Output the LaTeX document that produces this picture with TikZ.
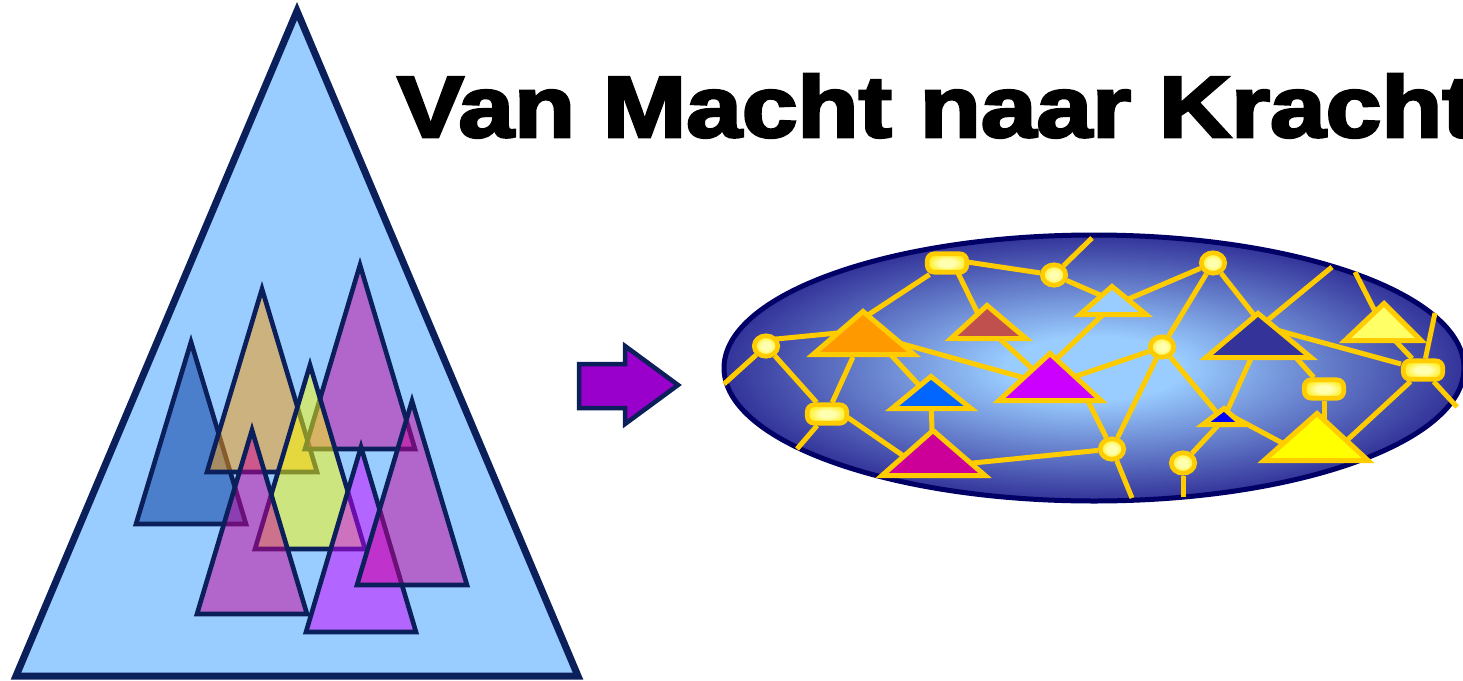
\documentclass[tikz,border=0pt]{standalone}
\usepackage{fontspec}
\newfontfamily\titlefont[FakeBold=3]{Liberation Sans Bold}
\usetikzlibrary{calc,shapes.geometric}
\definecolor{navy}{HTML}{0B1F5A}
\definecolor{bgblue}{HTML}{99CCFF}
\definecolor{arrowpurple}{HTML}{9900CC}
\definecolor{ellnavy}{HTML}{000066}
\definecolor{elldark}{HTML}{333399}
\definecolor{elllight}{HTML}{99CCFF}
\definecolor{linkyellow}{HTML}{FFCC00}
\definecolor{knoblight}{HTML}{FFFFB0}
\definecolor{knobdark}{HTML}{FFEE22}
\definecolor{cblue}{HTML}{003399}
\definecolor{corange}{HTML}{FF9900}
\definecolor{cyellow}{HTML}{FFFF00}
\definecolor{cmagenta}{HTML}{CC0099}
\definecolor{cpurple}{HTML}{CC00FF}
\definecolor{cbrown}{HTML}{C0504D}
\definecolor{cbright}{HTML}{0066FF}
\definecolor{cnavy}{HTML}{333399}
\definecolor{cpureblue}{HTML}{0000FF}
\definecolor{clightyellow}{HTML}{FFFF66}
\pgfdeclarelayer{back}
\pgfdeclarelayer{bg}
\pgfsetlayers{back,bg,main}
\pgfdeclareradialshading{ellshade}{\pgfpoint{0bp}{0bp}}{color(0bp)=(elllight); color(6bp)=(elllight); color(25bp)=(elldark); color(50bp)=(elldark)}
\pgfdeclareradialshading{knobshade}{\pgfpoint{0bp}{0bp}}{color(0bp)=(knoblight); color(10bp)=(knoblight); color(25bp)=(knobdark); color(50bp)=(knobdark)}
\tikzset{
  bigtri/.style={draw=navy, fill=bgblue, line width=7pt},
  lefttri/.style={draw=navy, line width=4.6pt, fill opacity=0.5},
  movearrow/.style={draw=navy, fill=arrowpurple, line width=4.5pt},
  netfield/.style={draw=ellnavy, line width=5pt, shading=ellshade},
  link/.style={draw=linkyellow, line width=5pt},
  nettri/.style={draw=linkyellow, line width=5pt},
  knob/.style={ellipse, draw=linkyellow, line width=4.6pt, shading=knobshade, minimum width=23.5pt, minimum height=20.5pt, inner sep=0pt},
  plate/.style={rectangle, rounded corners=7pt, draw=linkyellow, line width=4.6pt, shading=knobshade, minimum width=39.5pt, minimum height=18.5pt, inner sep=0pt},
  titletext/.style={anchor=base west, inner sep=0pt, font=\titlefont\fontsize{87}{87}\selectfont}
}
\newcommand\lefttriangle[4]{\draw[lefttri, fill=#1] (#2,#3+7) -- (#2-55,#4-2) -- (#2+55,#4-2) -- cycle;}
\newcommand\nettriangle[6]{\draw[nettri, fill=#1] (#2,#3+3.5) -- (#4+6,#6-2.5) -- (#5-6,#6-2.5) -- cycle;}
\begin{document}
\begin{tikzpicture}[x=1pt,y=-1pt]
\useasboundingbox (0,0) rectangle (1463,680);
\begin{pgfonlayer}{back}
\fill[white] (0,0) rectangle (1463,680);
\end{pgfonlayer}

% left: pyramid of power
\draw[bigtri] (297,11) -- (16,676) -- (578,676) -- cycle;
\lefttriangle{cblue}{191}{335}{526}
\lefttriangle{corange}{262}{282}{474}
\lefttriangle{cmagenta}{360}{258}{451}
\lefttriangle{cyellow}{310}{358}{551}
\lefttriangle{cmagenta}{252}{423}{616}
\lefttriangle{cpurple}{361}{440}{634}
\lefttriangle{cmagenta}{412}{394}{587}

% title
\node[titletext] (title) at (397,137) {\scalebox{1.15}[1]{Van Macht naar Kracht}};

% arrow
\draw[movearrow] (579,364) -- (625,364) -- (625,346) -- (678,385) -- (625,424) -- (625,408) -- (579,408) -- cycle;

% network nodes
\node[plate] (A) at (947,263) {};
\node[knob] (B) at (1054,275) {};
\node[knob] (C) at (766,346) {};
\node[plate] (D) at (827,414) {};
\node[knob] (E) at (1213,263) {};
\node[knob] (F) at (1162,347) {};
\node[knob] (G) at (1112,449) {};
\node[knob] (H) at (1183,463) {};
\node[plate] (I) at (1324,389) {};
\node[plate] (J) at (1423,370) {};

\coordinate (tO) at (863,341);
\coordinate (tB) at (988,328);
\coordinate (tL) at (1112,306);
\coordinate (tBl) at (931,398);
\coordinate (tM) at (933,461);
\coordinate (tP) at (1050,385);
\coordinate (tN) at (1258,343);
\coordinate (tS) at (1223,420);
\coordinate (tY) at (1316,445);
\coordinate (tLY) at (1384,329);

\coordinate (f1) at (724,384);
\coordinate (f2) at (1092,238);
\coordinate (f3) at (1332,267);
\coordinate (f4) at (1132,498);
\coordinate (f5) at (1183,497);
\coordinate (f6) at (1457,407);
\coordinate (f7) at (1435,313);
\coordinate (f8) at (1355,272);
\coordinate (fD) at (797,449);

\begin{pgfonlayer}{bg}
\draw[netfield] (1094,368) ellipse [x radius=370, y radius=133];
\draw[link] (C) -- (f1);
\draw[link] ($(C)+(0,-6)$) -- ($(tO)+(-15,-9)$);
\draw[link] (C) -- (D);
\draw[link] (D) -- (fD);
\draw[link] ($(D)+(20,3)$) -- ($(tM)+(-25,-2)$);
\draw[link] ($(tO)+(-10,16)$) -- (D);
\draw[link] ($(tO)+(5,-26)$) -- (A);
\draw[link] ($(A)+(10,8)$) -- ($(tB)+(-5,-4)$);
\draw[link] ($(A)+(0,-4)$) -- (B);
\draw[link] (B) -- (f2);
\draw[link] (B) -- ($(tL)+(-5,-8)$);
\draw[link] ($(tO)+(0,-8)$) -- (tP);
\draw[link] ($(tO)+(15,0)$) -- (tBl);
\draw[link] (tBl) -- (tM);
\draw[link] ($(tM)+(0,6)$) -- (G);
\draw[link] (tB) -- (tP);
\draw[link] ($(tP)+(0,-20)$) -- (tL);
\draw[link] (tP) -- (F);
\draw[link] ($(tP)+(30,0)$) -- (G);
\draw[link] (E) -- (tL);
\draw[link] (E) -- (F);
\draw[link] (E) -- ($(tN)+(-4,-28)$);
\draw[link] ($(tN)+(0,-15)$) -- (f3);
\draw[link] ($(tN)+(0,-18)$) -- (J);
\draw[link] ($(tN)+(25,0)$) -- (I);
\draw[link] (tN) -- (tS);
\draw[link] (F) -- (tS);
\draw[link] (F) -- (G);
\draw[link] (G) -- (f4);
\draw[link] (tS) -- (H);
\draw[link] (H) -- (f5);
\draw[link] ($(tS)+(5,-6)$) -- ($(tY)+(-15,8)$);
\draw[link] (I) -- (I |- tY);
\draw[link] ($(tY)+(15,10)$) -- (J);
\draw[link] (J) -- (f6);
\draw[link] (J) -- (f7);
\draw[link] (tLY) -- (J);
\draw[link] (tLY) -- (f8);
\end{pgfonlayer}

% network triangles
\nettriangle{corange}{863}{308}{807}{920}{357}
\nettriangle{cbrown}{987}{302}{945}{1032}{341}
\nettriangle{bgblue}{1112}{283}{1074}{1152}{317}
\nettriangle{cbright}{931}{373}{886}{977}{411}
\nettriangle{cmagenta}{933}{427}{876}{991}{478}
\nettriangle{cpurple}{1050}{350}{993}{1107}{403}
\nettriangle{cnavy}{1258}{310}{1200}{1317}{360}
\nettriangle{cpureblue}{1224}{405}{1197}{1248}{427}
\nettriangle{cyellow}{1317}{410}{1258}{1374}{463}
\nettriangle{clightyellow}{1384}{300}{1339}{1427}{343}
\end{tikzpicture}
\end{document}
